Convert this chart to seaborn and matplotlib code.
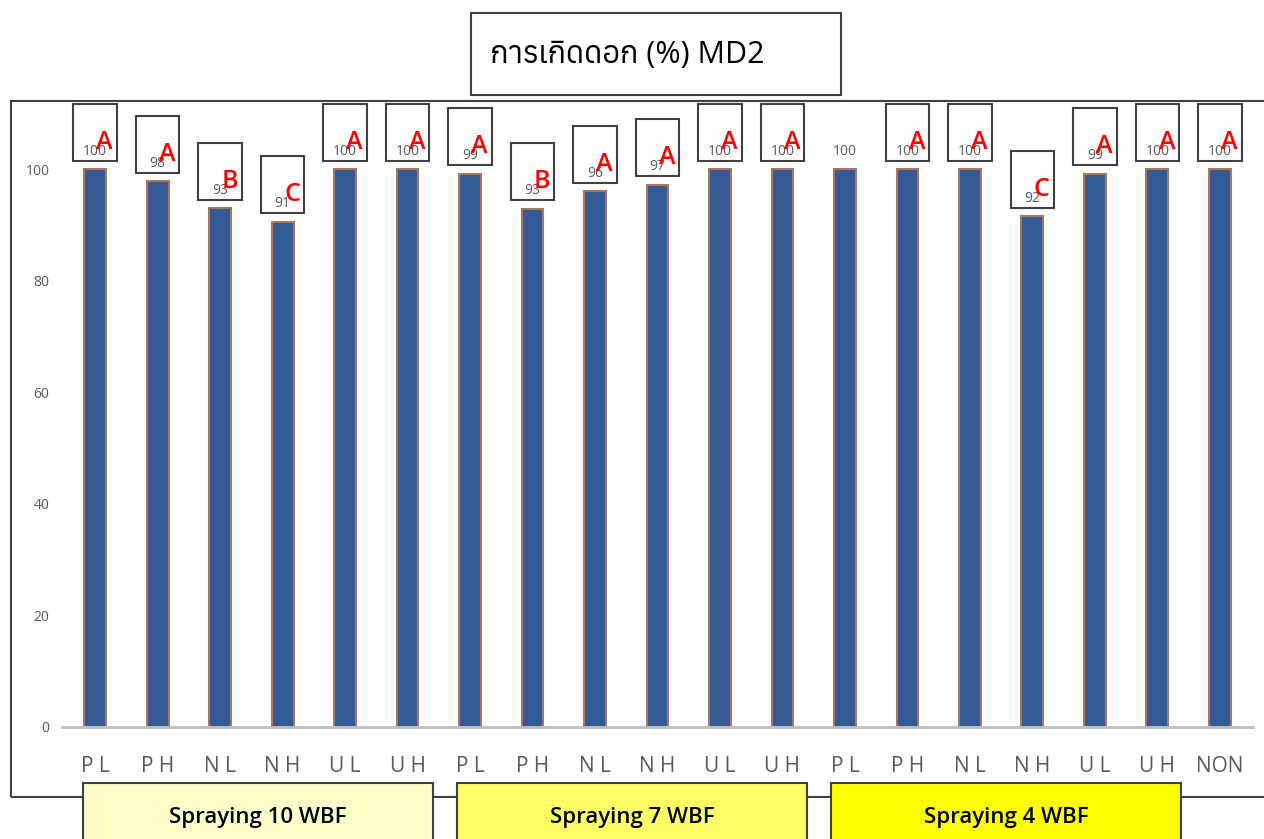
import numpy as np
import pandas as pd
import matplotlib
matplotlib.use('Agg')
import matplotlib.pyplot as plt
import seaborn as sns
from matplotlib import font_manager
from matplotlib.ft2font import FT2Font
from matplotlib.patches import Rectangle

# data
treatments = ['P L', 'P H', 'N L', 'N H', 'U L', 'U H',
              'P L', 'P H', 'N L', 'N H', 'U L', 'U H',
              'P L', 'P H', 'N L', 'N H', 'U L', 'U H', 'NON']
groups = ['Spraying 10 WBF'] * 6 + ['Spraying 7 WBF'] * 6 + ['Spraying 4 WBF'] * 7
values = [100, 97.8, 93.0, 90.6, 100, 100,
          99.2, 92.9, 96.0, 97.2, 100, 100,
          100, 100, 100, 91.6, 99.2, 100, 100]
letters = ['A', 'A', 'B', 'C', 'A', 'A',
           'A', 'B', 'A', 'A', 'A', 'A',
           '', 'A', 'A', 'C', 'A', 'A', 'A']
group_names = ['Spraying 10 WBF', 'Spraying 7 WBF', 'Spraying 4 WBF']
group_colors = ['#ffffcc', '#ffff66', '#ffff00']
title = 'การเกิดดอก (%) MD2'

df = pd.DataFrame({'slot': [f'{g}|{i}' for i, g in enumerate(groups)],
                   'treatment': treatments, 'group': groups, 'value': values})


# find a font that can draw Thai
def has_thai(path):
    try:
        return 0x0E01 in FT2Font(path).get_charmap()
    except Exception:
        return False


thai = sorted({f.name for f in font_manager.fontManager.ttflist if has_thai(f.fname)})

sns.set_theme(style='white')
plt.rcParams['font.family'] = ['Open Sans'] + thai[:1] + ['DejaVu Sans']

fig = plt.figure(figsize=(12.64, 8.39), dpi=100)
ax = fig.add_axes([62 / 1264, 112 / 839, 1191 / 1264, 626 / 839])

sns.barplot(data=df, x='slot', y='value', color='#335a96', width=0.35,
            edgecolor='#a8775e', linewidth=1.5, saturation=1, ax=ax)
ax.set_xlim(-0.53, len(values) - 0.47)
ax.set_ylim(0, 112.2)
ax.set_yticks(range(0, 101, 20))
ax.tick_params(axis='y', length=0, pad=9, labelsize=10, labelcolor='#595959')
ax.set_xticks(range(len(treatments)))
ax.set_xticklabels(treatments)
ax.tick_params(axis='x', length=0, pad=21, labelsize=15, labelcolor='#595959')
ax.set_xlabel('')
ax.set_ylabel('')
for s in ['left', 'right', 'top']:
    ax.spines[s].set_visible(False)
ax.spines['bottom'].set_color('#bfbfbf')
ax.spines['bottom'].set_linewidth(2)

# value labels, letter boxes
for i, (v, let) in enumerate(zip(values, letters)):
    ax.text(i, v + 3.2, f'{v:.0f}', ha='center', va='center', fontsize=10,
            color='#595959', zorder=4)
    if let:
        bottom = min(v + 1.5, 101.8)
        ax.add_patch(Rectangle((i - 0.35, bottom), 0.7, 10.2, fill=False,
                               edgecolor='#404040', lw=1.5, clip_on=False, zorder=5))
        ax.text(i + 0.15, bottom + 3.3, let, ha='center', va='center',
                fontsize=18, fontweight='semibold', color='#ff0000', zorder=6,
                clip_on=False)

# chart area frame
fig.add_artist(Rectangle((11 / 1264, 42 / 839), 1.0, 696 / 839, fill=False,
                         edgecolor='#404040', lw=1.5, transform=fig.transFigure, zorder=1))

# title box
fig.add_artist(Rectangle((471 / 1264, 744 / 839), 370 / 1264, 82 / 839,
                         facecolor='white', edgecolor='#404040', lw=1.5,
                         transform=fig.transFigure, zorder=7))
fig.text(490 / 1264, 784 / 839, title, ha='left', va='center', fontsize=22,
         color='black', zorder=8)

# group boxes below the axis
for k, (name, col) in enumerate(zip(group_names, group_colors)):
    x0 = 83 + k * 374
    fig.add_artist(Rectangle((x0 / 1264, -0.01), 350 / 1264, 56 / 839 + 0.01,
                             facecolor=col, edgecolor='#404040', lw=1.5,
                             transform=fig.transFigure, zorder=7))
    fig.text((x0 + 175) / 1264, 22 / 839, name, ha='center', va='center',
             fontsize=16, fontweight='semibold', color='black', zorder=8)

fig.savefig('out.png', dpi=100)
